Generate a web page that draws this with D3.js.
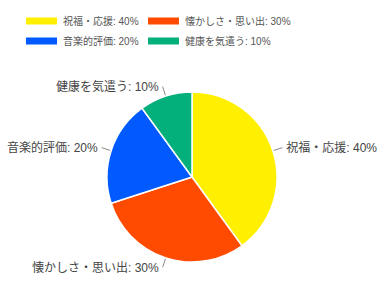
<!DOCTYPE html>
<html lang="ja">
<head>
<meta charset="UTF-8">
<script src="https://d3js.org/d3.v7.min.js"></script>
<style>
  body { margin: 0; background: #fff; }
  text { font-family: "Liberation Sans", "Noto Sans CJK JP", sans-serif; }
</style>
</head>
<body>
<svg id="chart" width="383" height="308"></svg>
<script>
    // data
    const labels = ["祝福・応援", "懐かしさ・思い出", "音楽的評価", "健康を気遣う"];
    const values = [40, 30, 20, 10];
    const colors = ["#FFF000", "#FF4B00", "#005AFF", "#03AF7A"];

    const svg = d3.select("#chart");
    const cx = 192, cy = 177, r = 85;

    // legend, two per row
    const legend = svg.append("g");
    const colX = [26, 148];
    const rowY = [21, 41];
    labels.forEach(function(d, i){
        let g = legend.append("g")
            .attr("transform", "translate(" + colX[i % 2] + "," + rowY[Math.floor(i / 2)] + ")");
        g.append("rect")
            .attr("x", 0).attr("y", -3.5)
            .attr("width", 31).attr("height", 7)
            .attr("fill", colors[i]);
        g.append("text")
            .attr("x", 37).attr("y", 0)
            .attr("dy", "0.35em")
            .attr("fill", "#555")
            .style("font-size", "10px")
            .text(d + ": " + values[i] + "%");
    });

    const pie = d3.pie().sort(null).value(d => d);
    const arcs = pie(values);
    const arc = d3.arc().innerRadius(0).outerRadius(r);

    const g = svg.append("g").attr("transform", "translate(" + cx + "," + cy + ")");

    g.selectAll("path.slice")
        .data(arcs)
        .enter().append("path")
        .attr("class", "slice")
        .attr("d", arc)
        .attr("fill", (d, i) => colors[i])
        .attr("stroke", "#fff")
        .attr("stroke-width", 1.5);

    // leader lines + labels
    const total = d3.sum(values);
    arcs.forEach(function(d, i){
        let a = (d.startAngle + d.endAngle) / 2;
        let sx = Math.sin(a), sy = -Math.cos(a);
        let x1 = sx * (r + 1), y1 = sy * (r + 1);
        let x2 = sx * (r + 10), y2 = sy * (r + 10);
        g.append("line")
            .attr("x1", x1).attr("y1", y1)
            .attr("x2", x2).attr("y2", y2)
            .attr("stroke", "#888")
            .attr("stroke-width", 1);
        let right = sx > 0;
        g.append("text")
            .attr("x", x2 + (right ? 4 : -4))
            .attr("y", y2)
            .attr("dy", "0.35em")
            .attr("text-anchor", right ? "start" : "end")
            .attr("fill", "#444")
            .style("font-size", "12px")
            .text(labels[i] + ": " + Math.round(values[i] / total * 100) + "%");
    });
</script>
</body>
</html>
